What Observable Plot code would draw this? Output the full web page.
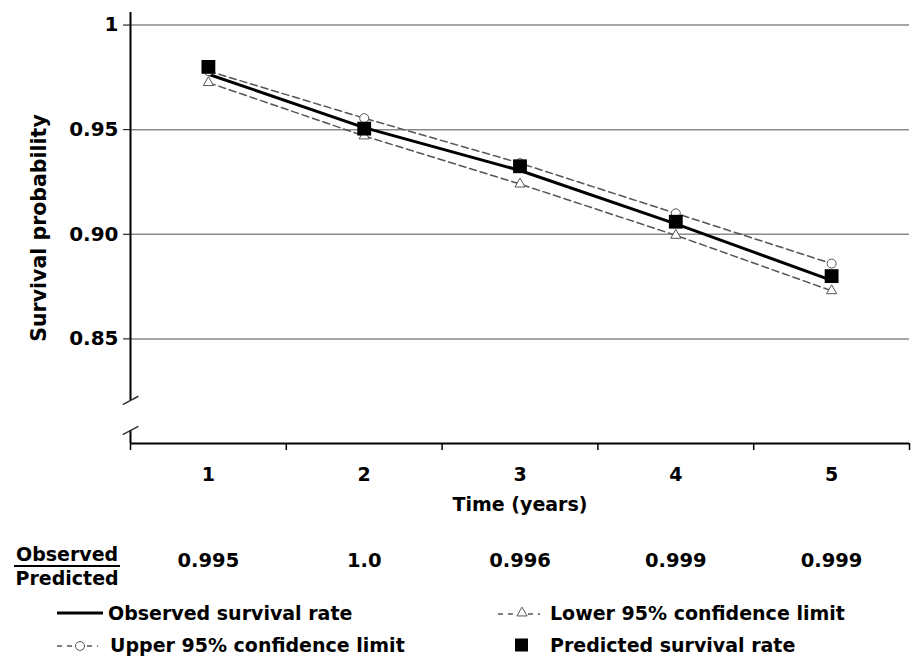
<!DOCTYPE html>
<html>
<head>
<meta charset="utf-8">
<script src="https://cdn.jsdelivr.net/npm/d3@7"></script>
<script src="https://cdn.jsdelivr.net/npm/@observablehq/plot@0.6"></script>
<style>
  html, body { margin: 0; padding: 0; background: #fff; }
  body { width: 916px; height: 657px; position: relative; overflow: hidden; font-family: "DejaVu Sans", Verdana, sans-serif; font-weight: bold; color: #000; }
  #chart { position: absolute; left: 0; top: 0; }
  .ratio-label { position: absolute; left: 14px; top: 543px; font-size: 19px; line-height: 22px; text-align: center; }
  .ratio-label .num { display: block; border-bottom: 2px solid #000; padding: 0 2px; }
  .legend { position: absolute; left: 0; top: 585px; width: 916px; height: 72px; font-size: 19px; }
  .item { position: absolute; display: flex; align-items: center; height: 24px; white-space: nowrap; }
  .item svg { display: block; margin-right: 4px; }
</style>
</head>
<body>
<div id="chart"></div>
<div class="ratio-label"><span class="num">Observed</span><span>Predicted</span></div>
<div class="legend" id="legend"></div>
<script>
// ---- data ----
const years = [1, 2, 3, 4, 5];
const observed = [0.9765, 0.951, 0.9305, 0.905, 0.878];
const upper95 = [0.978, 0.9555, 0.934, 0.910, 0.886];
const lower95 = [0.9725, 0.947, 0.924, 0.8995, 0.873];
const predicted = [0.980, 0.9505, 0.9325, 0.906, 0.880];
const ratioLabels = ["0.995", "1.0", "0.996", "0.999", "0.999"];
const yTicks = [0.85, 0.90, 0.95, 1];
const yTickLabels = ["0.85", "0.90", "0.95", "1"];
const xBoundaries = [0.5, 1.5, 2.5, 3.5, 4.5, 5.5];
const axisBreak = [0.8062, 0.8206];
const xTitle = "Time (years)";
const yTitle = "Survival probability";
const seriesNames = ["Observed survival rate", "Lower 95% confidence limit", "Upper 95% confidence limit", "Predicted survival rate"];

const rows = (vals) => years.map((t, i) => ({t, v: vals[i]}));
const obsData = rows(observed);
const upData = rows(upper95);
const loData = rows(lower95);
const predData = rows(predicted);
const ratioData = years.map((t, i) => ({t, r: ratioLabels[i]}));

const font = {fontFamily: "DejaVu Sans, Verdana, sans-serif", fontWeight: "bold"};
const dashColor = "#555";

const plot = Plot.plot({
  width: 916,
  height: 585,
  marginLeft: 130,
  marginRight: 7,
  marginTop: 12,
  marginBottom: 142,
  style: {fontFamily: "DejaVu Sans, Verdana, sans-serif", fontSize: "18px", fontWeight: "bold", color: "#000", background: "#fff"},
  x: {type: "linear", domain: [0.5, 5.5]},
  y: {type: "linear", domain: [0.8, 1.006]},
  marks: [
    Plot.gridY(yTicks, {stroke: "#8a8a8a", strokeOpacity: 1, strokeWidth: 1.5}),
    // axis lines with break
    Plot.ruleY([0.8], {stroke: "#000", strokeWidth: 2}),
    Plot.ruleX([{y1: 0.8, y2: axisBreak[0]}, {y1: axisBreak[1], y2: 1.006}], {x: 0.5, y1: "y1", y2: "y2", stroke: "#000", strokeWidth: 2}),
    Plot.link(axisBreak, {x1: 0.45, x2: 0.55, y1: d => d - 0.002, y2: d => d + 0.002, stroke: "#333", strokeWidth: 1.5}),
    Plot.axisY(yTicks, {tickSize: 7, tickPadding: 5, tickFormat: (d, i) => yTickLabels[i], fontSize: 20, label: null, stroke: "#000"}),
    Plot.axisX(xBoundaries, {tickSize: 7, tickFormat: () => "", label: null, stroke: "#000", strokeWidth: 1.5}),
    Plot.axisX(years, {tickSize: 0, tickPadding: 24, fontSize: 19, label: null, tickFormat: d => String(d)}),
    Plot.text([xTitle], {frameAnchor: "bottom", dy: 67, fontSize: 19, ...font}),
    Plot.text([yTitle], {frameAnchor: "left", textAnchor: "middle", rotate: -90, dx: -91, fontSize: 20.5, ...font}),
    Plot.text(ratioData, {x: "t", text: "r", frameAnchor: "bottom", dy: 123, fontSize: 19.5, ...font}),
    // series
    Plot.line(upData, {x: "t", y: "v", stroke: dashColor, strokeWidth: 1.5, strokeDasharray: "7,4"}),
    Plot.line(loData, {x: "t", y: "v", stroke: dashColor, strokeWidth: 1.5, strokeDasharray: "7,4"}),
    Plot.line(obsData, {x: "t", y: "v", stroke: "#000", strokeWidth: 3}),
    Plot.dot(upData, {x: "t", y: "v", symbol: "circle", r: 4.5, stroke: "#555", strokeWidth: 1, fill: "#fff"}),
    Plot.dot(loData, {x: "t", y: "v", symbol: "triangle", r: 3.8, stroke: "#555", strokeWidth: 1, fill: "#fff"}),
    Plot.dot(predData, {x: "t", y: "v", symbol: "square", r: 7.8, fill: "#000", stroke: "none"})
  ]
});
document.getElementById("chart").appendChild(plot);

// ---- legend ----
const samples = {
  solid: `<svg width="47" height="20"><line x1="0" y1="10" x2="46" y2="10" stroke="#000" stroke-width="3"/></svg>`,
  tri: `<svg width="48" height="20"><line x1="0" y1="11" x2="42" y2="11" stroke="${dashColor}" stroke-width="1.5" stroke-dasharray="5,5"/><path d="${d3.symbol(d3.symbolTriangle, 45)()}" transform="translate(24,10)" fill="#fff" stroke="#555"/></svg>`,
  circ: `<svg width="49" height="20"><line x1="0" y1="11" x2="41" y2="11" stroke="${dashColor}" stroke-width="1.5" stroke-dasharray="5,5"/><circle cx="23" cy="11" r="4.5" fill="#fff" stroke="#555"/></svg>`,
  sq: `<svg width="31" height="20"><rect x="0" y="3.5" width="13" height="13" fill="#000"/></svg>`
};
const legendItems = [
  {left: 57, top: 16, sample: samples.solid, label: seriesNames[0]},
  {left: 498, top: 16, sample: samples.tri, label: seriesNames[1]},
  {left: 57, top: 48, sample: samples.circ, label: seriesNames[2]},
  {left: 515, top: 48, sample: samples.sq, label: seriesNames[3]}
];
const lg = document.getElementById("legend");
legendItems.forEach(it => {
  const div = document.createElement("div");
  div.className = "item";
  div.style.left = it.left + "px";
  div.style.top = it.top + "px";
  div.innerHTML = it.sample + `<span>${it.label}</span>`;
  lg.appendChild(div);
});
</script>
</body>
</html>
